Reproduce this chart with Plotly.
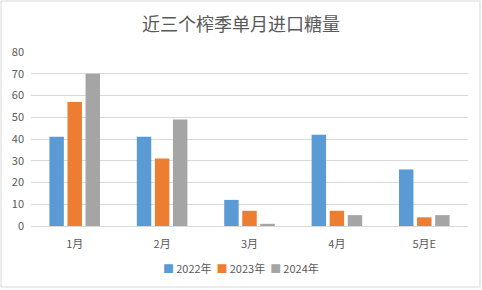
import plotly.graph_objects as go

categories = ["1月", "2月", "3月", "4月", "5月E"]
series_names = ["2022年", "2023年", "2024年"]
v2022 = [41, 41, 12, 42, 26]
v2023 = [57, 31, 7, 7, 4]
v2024 = [70, 49, 1, 5, 5]
colors = ["#5B9BD5", "#ED7D31", "#A5A5A5"]
y_ticks = [0, 10, 20, 30, 40, 50, 60, 70, 80]

fig = go.Figure()
for name, vals, c in zip(series_names, [v2022, v2023, v2024], colors):
    fig.add_trace(go.Bar(x=categories, y=vals, name=name, marker_color=c,
                         marker_line_width=0, showlegend=False))

legend_text = "&nbsp;&nbsp;".join(
    f"<span style='color:{c}'>■</span>\u2009{n}" for n, c in zip(series_names, colors))

font_family = "Noto Sans CJK SC, Liberation Sans, sans-serif"
W, H = 482, 290
L, R, T, B = 31, 14, 52, 64
pw, ph = W - L - R, H - T - B
fig.update_layout(
    width=W, height=H,
    margin=dict(l=L, r=R, t=T, b=B, autoexpand=False),
    paper_bgcolor="white", plot_bgcolor="white",
    barmode="group", bargap=0.38, bargroupgap=0.2,
    font=dict(family=font_family, color="#595959", size=11),
    title=dict(text="近三个榨季单月进口糖量", x=0.5, xanchor="center",
               y=1 - 25 / H, yanchor="middle", yref="container",
               font=dict(size=18, color="#595959", family=font_family)),
    xaxis=dict(showgrid=False, ticks="", showline=True, linecolor="#D9D9D9",
               tickfont=dict(size=11, color="#595959"), ticklabelstandoff=8),
    yaxis=dict(range=[0, 80], tickvals=y_ticks, showgrid=True, gridcolor="#D9D9D9",
               zeroline=False, ticks="", tickfont=dict(size=11, color="#595959"),
               ticklabelstandoff=6),
    annotations=[dict(text=legend_text, xref="paper", yref="paper",
                      x=(241 - L) / pw, y=(H - B - 268) / ph,
                      xanchor="center", yanchor="middle", showarrow=False,
                      font=dict(size=11, color="#595959"))],
    shapes=[dict(type="rect", xref="paper", yref="paper",
                 x0=(1 - L) / pw, x1=(480 - L) / pw,
                 y0=(H - B - 287) / ph, y1=(H - B - 1) / ph,
                 line=dict(color="#D9D9D9", width=1), layer="below")],
)
fig.write_html("out.html", config={"displayModeBar": False},
               post_script="document.body.style.margin='0';")
